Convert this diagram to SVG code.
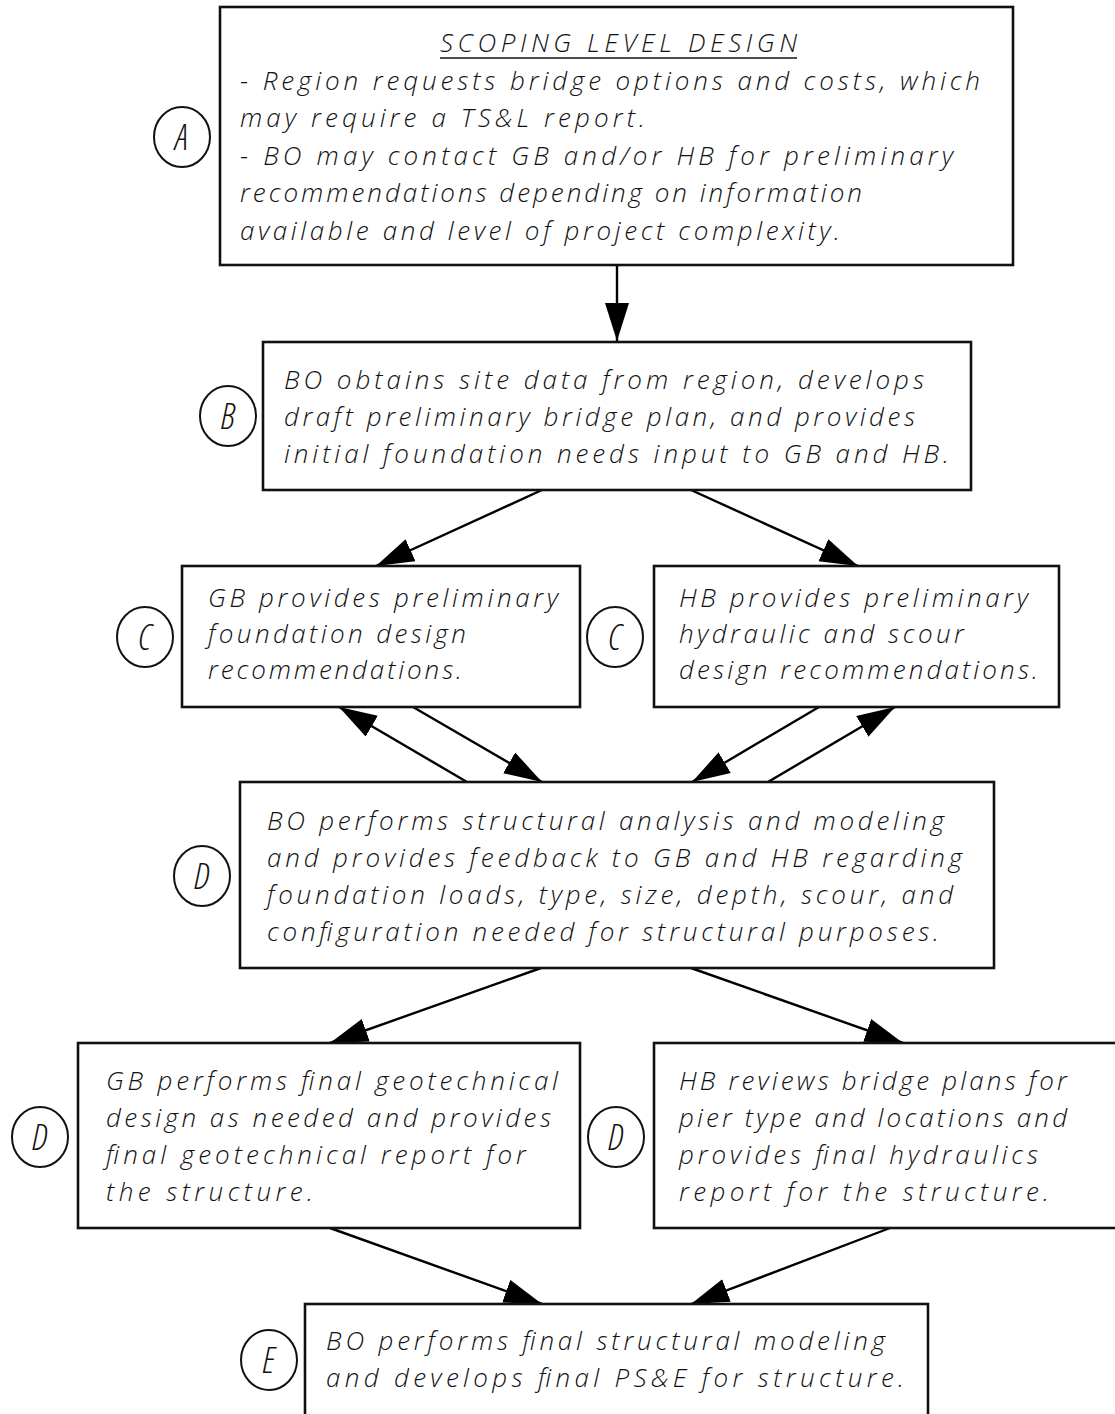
<svg xmlns="http://www.w3.org/2000/svg" width="1115" height="1414" viewBox="0 0 1115 1414">
<defs>
<marker id="ah" markerUnits="userSpaceOnUse" markerWidth="42" markerHeight="26" refX="38" refY="12" orient="auto">
<path d="M0,0 L38,12 L0,24 z" fill="#000"/>
</marker>
<style>
.box{fill:#fff;stroke:#111;stroke-width:2.6}
.lbl{fill:#fff;stroke:#111;stroke-width:2}
.t{font-family:"Open Sans","Liberation Sans",sans-serif;font-style:italic;font-weight:300;font-size:26px;fill:#111}
.c{font-family:"Open Sans","Liberation Sans",sans-serif;font-style:italic;font-weight:300;font-stretch:75%;font-size:36px;fill:#111;text-anchor:middle}
.e{stroke:#000;stroke-width:2.4;fill:none;marker-end:url(#ah)}
</style>
</defs>
<rect width="1115" height="1414" fill="#fff"/>
<g id="connectors">
<line class="e" x1="617" y1="265" x2="617" y2="341"/>
<line class="e" x1="542" y1="490" x2="376" y2="566"/>
<line class="e" x1="691" y1="490" x2="858" y2="566"/>
<line class="e" x1="413" y1="707" x2="542" y2="782"/>
<line class="e" x1="467" y1="782" x2="339" y2="707"/>
<line class="e" x1="768" y1="782" x2="895" y2="707"/>
<line class="e" x1="819" y1="707" x2="692" y2="782"/>
<line class="e" x1="541" y1="968" x2="330" y2="1043"/>
<line class="e" x1="691" y1="968" x2="903" y2="1043"/>
<line class="e" x1="330" y1="1228" x2="542" y2="1304"/>
<line class="e" x1="890" y1="1228" x2="691" y2="1304"/>
</g>
<g id="nodeA">
<rect class="box" x="220" y="7" width="793" height="258"/>
<ellipse class="lbl" cx="182" cy="137" rx="28" ry="30"/>
<text class="c" x="182" y="150">A</text>
<text class="t" x="440" y="52" textLength="357" lengthAdjust="spacing">SCOPING LEVEL DESIGN</text>
<line x1="440" y1="58" x2="797" y2="58" stroke="#111" stroke-width="1.5"/>
<text class="t" x="240" y="90" textLength="740" lengthAdjust="spacing">- Region requests bridge options and costs, which</text>
<text class="t" x="240" y="127" textLength="405" lengthAdjust="spacing">may require a TS&amp;L report.</text>
<text class="t" x="240" y="165" textLength="713" lengthAdjust="spacing">- BO may contact GB and/or HB for preliminary</text>
<text class="t" x="240" y="202" textLength="622" lengthAdjust="spacing">recommendations depending on information</text>
<text class="t" x="240" y="240" textLength="600" lengthAdjust="spacing">available and level of project complexity.</text>
</g>
<g id="nodeB">
<rect class="box" x="263" y="342" width="708" height="148"/>
<ellipse class="lbl" cx="228" cy="416" rx="28" ry="30"/>
<text class="c" x="228" y="429">B</text>
<text class="t" x="284" y="389" textLength="640" lengthAdjust="spacing">BO obtains site data from region, develops</text>
<text class="t" x="284" y="426" textLength="631" lengthAdjust="spacing">draft preliminary bridge plan, and provides</text>
<text class="t" x="284" y="463" textLength="665" lengthAdjust="spacing">initial foundation needs input to GB and HB.</text>
</g>
<g id="nodeC1">
<rect class="box" x="182" y="566" width="398" height="141"/>
<ellipse class="lbl" cx="145" cy="637" rx="28" ry="30"/>
<text class="c" x="145" y="650">C</text>
<text class="t" x="208" y="607" textLength="350" lengthAdjust="spacing">GB provides preliminary</text>
<text class="t" x="208" y="643" textLength="258" lengthAdjust="spacing">foundation design</text>
<text class="t" x="208" y="679" textLength="254" lengthAdjust="spacing">recommendations.</text>
</g>
<g id="nodeC2">
<rect class="box" x="654" y="566" width="405" height="141"/>
<ellipse class="lbl" cx="615" cy="637" rx="28" ry="30"/>
<text class="c" x="615" y="650">C</text>
<text class="t" x="679" y="607" textLength="349" lengthAdjust="spacing">HB provides preliminary</text>
<text class="t" x="679" y="643" textLength="285" lengthAdjust="spacing">hydraulic and scour</text>
<text class="t" x="679" y="679" textLength="359" lengthAdjust="spacing">design recommendations.</text>
</g>
<g id="nodeD">
<rect class="box" x="240" y="782" width="754" height="186"/>
<ellipse class="lbl" cx="202" cy="876" rx="28" ry="30"/>
<text class="c" x="202" y="889">D</text>
<text class="t" x="267" y="830" textLength="677" lengthAdjust="spacing">BO performs structural analysis and modeling</text>
<text class="t" x="267" y="867" textLength="695" lengthAdjust="spacing">and provides feedback to GB and HB regarding</text>
<text class="t" x="267" y="904" textLength="686" lengthAdjust="spacing">foundation loads, type, size, depth, scour, and</text>
<text class="t" x="267" y="941" textLength="672" lengthAdjust="spacing">configuration needed for structural purposes.</text>
</g>
<g id="nodeD1">
<rect class="box" x="78" y="1043" width="502" height="185"/>
<ellipse class="lbl" cx="40" cy="1137" rx="28" ry="30"/>
<text class="c" x="40" y="1150">D</text>
<text class="t" x="106" y="1090" textLength="452" lengthAdjust="spacing">GB performs final geotechnical</text>
<text class="t" x="106" y="1127" textLength="445" lengthAdjust="spacing">design as needed and provides</text>
<text class="t" x="106" y="1164" textLength="420" lengthAdjust="spacing">final geotechnical report for</text>
<text class="t" x="106" y="1201" textLength="207" lengthAdjust="spacing">the structure.</text>
</g>
<g id="nodeD2">
<rect class="box" x="654" y="1043" width="480" height="185"/>
<ellipse class="lbl" cx="616" cy="1137" rx="28" ry="30"/>
<text class="c" x="616" y="1150">D</text>
<text class="t" x="679" y="1090" textLength="388" lengthAdjust="spacing">HB reviews bridge plans for</text>
<text class="t" x="679" y="1127" textLength="388" lengthAdjust="spacing">pier type and locations and</text>
<text class="t" x="679" y="1164" textLength="359" lengthAdjust="spacing">provides final hydraulics</text>
<text class="t" x="679" y="1201" textLength="370" lengthAdjust="spacing">report for the structure.</text>
</g>
<g id="nodeE">
<rect class="box" x="305" y="1304" width="623" height="130"/>
<ellipse class="lbl" cx="269" cy="1360" rx="28" ry="30"/>
<text class="c" x="269" y="1373">E</text>
<text class="t" x="326" y="1350" textLength="559" lengthAdjust="spacing">BO performs final structural modeling</text>
<text class="t" x="326" y="1387" textLength="578" lengthAdjust="spacing">and develops final PS&amp;E for structure.</text>
</g>
</svg>
